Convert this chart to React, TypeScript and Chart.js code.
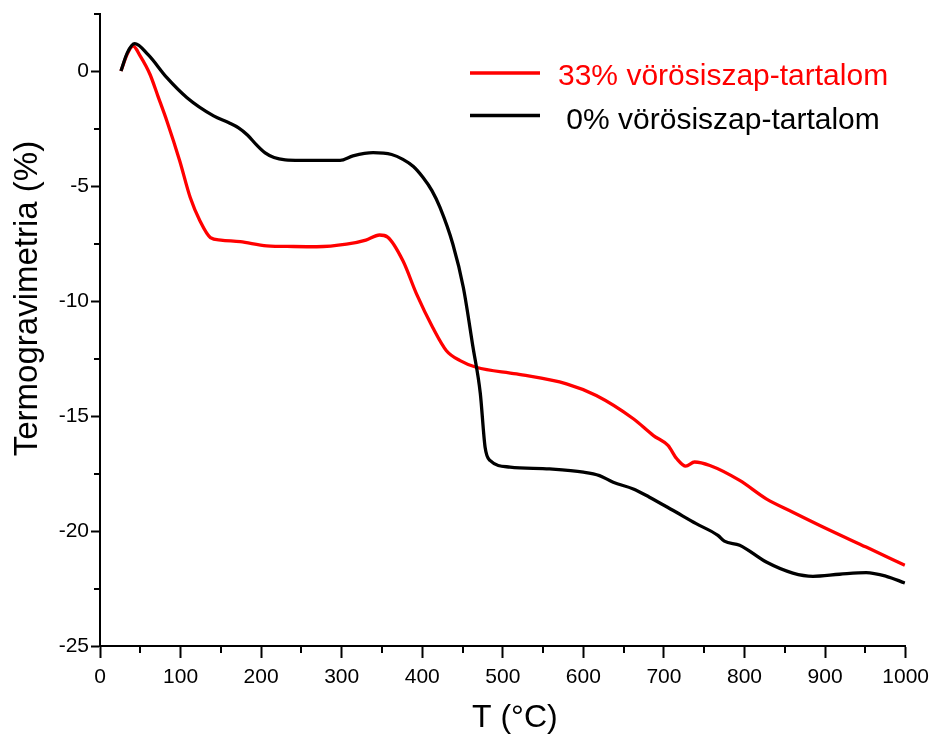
import React, { useEffect, useRef } from "react";
import { Chart, registerables } from "chart.js";

Chart.register(...registerables);

// 33% vörösiszap-tartalom (red)
const temps33 = [26, 34, 41, 50, 62, 72, 83, 99, 112, 124, 137, 150, 174, 207, 240, 269, 306, 330, 347, 357, 376, 393, 413, 430, 447, 467, 517, 579, 616, 662, 687, 705, 716, 727, 738, 757, 794, 827, 860, 902, 951, 999];
const tg33 = [0, 0.75, 1.09, 0.65, -0.14, -1.1, -2.17, -3.91, -5.5, -6.51, -7.24, -7.35, -7.42, -7.6, -7.63, -7.64, -7.53, -7.35, -7.13, -7.22, -8.25, -9.7, -11.15, -12.16, -12.59, -12.88, -13.17, -13.6, -14.11, -15.12, -15.85, -16.28, -16.86, -17.18, -17.0, -17.15, -17.8, -18.6, -19.18, -19.9, -20.7, -21.49];

// 0% vörösiszap-tartalom (black)
const temps0 = [26, 34, 43, 60, 83, 108, 141, 160, 172, 183, 194, 205, 216, 230, 248, 298, 314, 339, 362, 376, 389, 401, 412, 422, 438, 451, 463, 472, 478, 484, 509, 558, 600, 620, 637, 662, 682, 711, 740, 767, 775, 794, 827, 860, 885, 918, 951, 976, 999];
const tg0 = [0, 0.8, 1.19, 0.7, -0.29, -1.16, -1.95, -2.25, -2.47, -2.78, -3.2, -3.56, -3.76, -3.86, -3.88, -3.88, -3.69, -3.55, -3.63, -3.84, -4.15, -4.63, -5.2, -5.93, -7.53, -9.41, -12.01, -14.0, -16.36, -16.93, -17.22, -17.3, -17.44, -17.59, -17.88, -18.17, -18.53, -19.1, -19.68, -20.19, -20.44, -20.62, -21.35, -21.83, -21.97, -21.88, -21.81, -21.97, -22.26];

const seriesLabels = ["33% vörösiszap-tartalom", " 0% vörösiszap-tartalom"];
const seriesColors = ["#ff0000", "#000000"];

const xMin = 0;
const xMax = 1000;
const xStep = 50;
const xLabelStep = 100;
const yMin = -25;
const yMax = 2.5;
const yStep = 2.5;
const yLabelStep = 5;

const xTitle = "T (°C)";
const yTitle = "Termogravimetria (%)";

const FONT = '"Liberation Sans", Arial, Helvetica, sans-serif';

const isMultiple = (v: number, m: number) => Math.abs(Math.round(v / m) * m - v) < 1e-6;

const decorPlugin = {
  id: "decor",
  afterDraw(chart: any) {
    const { ctx, chartArea, scales } = chart;
    const xs = scales.x;
    const ys = scales.y;
    ctx.save();
    ctx.strokeStyle = "#000";
    ctx.lineWidth = 2;
    ctx.lineCap = "butt";
    // minor ticks
    xs.ticks.forEach((t: any) => {
      if (!isMultiple(t.value, xLabelStep)) {
        const px = Math.round(xs.getPixelForValue(t.value));
        ctx.beginPath();
        ctx.moveTo(px, chartArea.bottom);
        ctx.lineTo(px, chartArea.bottom + 7);
        ctx.stroke();
      }
    });
    ys.ticks.forEach((t: any) => {
      if (!isMultiple(t.value, yLabelStep)) {
        const py = Math.round(ys.getPixelForValue(t.value));
        ctx.beginPath();
        ctx.moveTo(chartArea.left - 6, py);
        ctx.lineTo(chartArea.left, py);
        ctx.stroke();
      }
    });

    // axis titles
    ctx.fillStyle = "#000";
    ctx.font = `32px ${FONT}`;
    ctx.textAlign = "center";
    ctx.textBaseline = "alphabetic";
    ctx.fillText(xTitle, (chartArea.left + chartArea.right) / 2 + 12, chartArea.bottom + 81);

    ctx.save();
    ctx.translate(36.5, chartArea.top + 285);
    ctx.rotate(-Math.PI / 2);
    ctx.font = `33px ${FONT}`;
    ctx.fillText(yTitle, 0, 0);
    ctx.restore();

    // legend
    const ds = chart.data.datasets;
    const rows = [
      { y: 73, base: 85 },
      { y: 115.5, base: 128.5 },
    ];
    ds.forEach((d: any, i: number) => {
      const r = rows[i];
      ctx.strokeStyle = d.borderColor;
      ctx.lineWidth = 3.3;
      ctx.beginPath();
      ctx.moveTo(chartArea.left + 370, r.y);
      ctx.lineTo(chartArea.left + 440, r.y);
      ctx.stroke();
      ctx.fillStyle = d.borderColor;
      ctx.font = `30px ${FONT}`;
      ctx.textAlign = "left";
      ctx.fillText(d.label, chartArea.left + 458, r.base);
    });
    ctx.restore();
  },
};

export default function App() {
  const canvasRef = useRef<HTMLCanvasElement | null>(null);

  useEffect(() => {
    document.body.style.margin = "0";
    const canvas = canvasRef.current;
    if (!canvas) return;

    const chart = new Chart(canvas, {
      type: "line",
      data: {
        datasets: [
          {
            label: seriesLabels[0],
            data: temps33.map((t, i) => ({ x: t, y: tg33[i] })),
            borderColor: seriesColors[0],
            borderWidth: 3.3,
            pointRadius: 0,
            fill: false,
            cubicInterpolationMode: "monotone",
            order: 1,
          },
          {
            label: seriesLabels[1],
            data: temps0.map((t, i) => ({ x: t, y: tg0[i] })),
            borderColor: seriesColors[1],
            borderWidth: 3.3,
            pointRadius: 0,
            fill: false,
            cubicInterpolationMode: "monotone",
            order: 0,
          },
        ],
      },
      options: {
        animation: false,
        responsive: false,
        maintainAspectRatio: false,
        layout: { padding: { top: 12, right: 30, left: 0, bottom: 0 } },
        plugins: {
          legend: { display: false },
          tooltip: { enabled: false },
        },
        scales: {
          x: {
            type: "linear",
            min: xMin,
            max: xMax,
            afterFit: (scale: any) => {
              scale.height = 94;
            },
            border: { display: true, color: "#000", width: 2 },
            grid: {
              drawOnChartArea: false,
              drawTicks: true,
              tickLength: 12,
              tickWidth: 2,
              tickColor: (c: any) =>
                c.tick && isMultiple(c.tick.value, xLabelStep) ? "#000" : "rgba(0,0,0,0)",
            },
            ticks: {
              stepSize: xStep,
              autoSkip: false,
              maxRotation: 0,
              padding: 7,
              color: "#000",
              font: { family: FONT, size: 21 },
              callback: (v: any) => (isMultiple(Number(v), xLabelStep) ? String(v) : ""),
            },
          },
          y: {
            type: "linear",
            min: yMin,
            max: yMax,
            afterFit: (scale: any) => {
              scale.width = 100;
            },
            border: { display: true, color: "#000", width: 2 },
            grid: {
              drawOnChartArea: false,
              drawTicks: true,
              tickLength: 9,
              tickWidth: 2,
              tickColor: (c: any) =>
                c.tick && isMultiple(c.tick.value, yLabelStep) ? "#000" : "rgba(0,0,0,0)",
            },
            ticks: {
              stepSize: yStep,
              autoSkip: false,
              padding: 2,
              color: "#000",
              font: { family: FONT, size: 21, lineHeight: 1.1 },
              callback: (v: any) => {
                const n = Number(v);
                if (!isMultiple(n, yLabelStep)) return "";
                return String(Math.round(n) === 0 ? 0 : Math.round(n));
              },
            },
          },
        },
      },
      plugins: [decorPlugin],
    } as any);

    return () => chart.destroy();
  }, []);

  return (
    <div style={{ width: 936, height: 740, background: "#fff" }}>
      <canvas ref={canvasRef} width={936} height={740} style={{ display: "block" }} />
    </div>
  );
}
